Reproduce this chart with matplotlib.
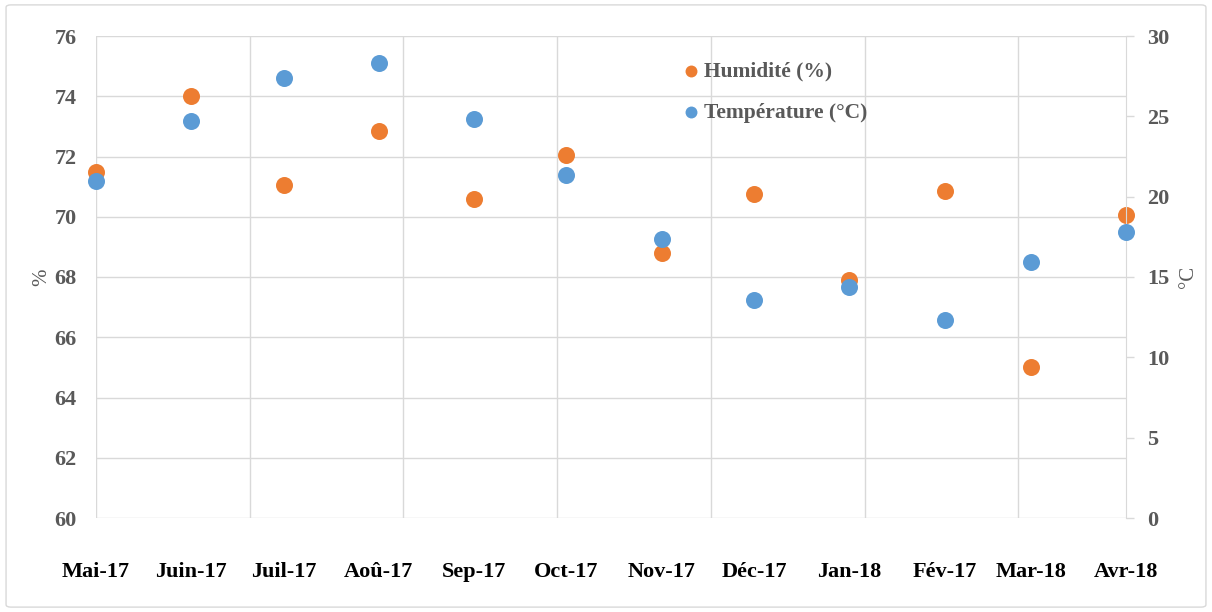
import matplotlib
matplotlib.use("Agg")
import matplotlib.pyplot as plt
import matplotlib.dates as mdates
from matplotlib.patches import FancyBboxPatch
import datetime as dt

# monthly data, May 2017 - Apr 2018
months = [dt.date(2017, 5, 1), dt.date(2017, 6, 1), dt.date(2017, 7, 1), dt.date(2017, 8, 1),
          dt.date(2017, 9, 1), dt.date(2017, 10, 1), dt.date(2017, 11, 1), dt.date(2017, 12, 1),
          dt.date(2018, 1, 1), dt.date(2018, 2, 1), dt.date(2018, 3, 1), dt.date(2018, 4, 1)]
month_labels = ["Mai-17", "Juin-17", "Juil-17", "Aoû-17", "Sep-17", "Oct-17",
                "Nov-17", "Déc-17", "Jan-18", "Fév-17", "Mar-18", "Avr-18"]
humidite = [71.5, 74.0, 71.05, 72.85, 70.6, 72.05, 68.8, 70.75, 67.9, 70.85, 65.0, 70.05]
temperature = [21.0, 24.7, 27.4, 28.3, 24.85, 21.35, 17.35, 13.55, 14.4, 12.35, 15.95, 17.8]

orange = "#ED7D31"
blue = "#5B9BD5"
grey = "#595959"
grid_c = "#D9D9D9"
font = ["Liberation Serif", "DejaVu Serif"]
plt.rcParams['font.family'] = font

fig = plt.figure(figsize=(12.12, 6.12), dpi=100)
fig.patches.append(FancyBboxPatch((0.005, 0.008), 0.99, 0.984, boxstyle="round,pad=0,rounding_size=0.004",
                                  transform=fig.transFigure, fc="none", ec="#D9D9D9", lw=1))
ax = fig.add_axes([96/1212, 94/612, 1030/1212, 482/612])
ax2 = ax.twinx()

x = mdates.date2num(months)
x0 = mdates.date2num(dt.date(2017, 5, 1))
x1 = mdates.date2num(dt.date(2018, 4, 1))

h = ax.scatter(x, humidite, s=150, color=orange, zorder=3, label="Humidité (%)",
               linewidths=0, clip_on=False)
t = ax2.scatter(x, temperature, s=150, color=blue, zorder=3, label="Température (°C)",
                linewidths=0, clip_on=False)

ax.set_xlim(x0, x1)
ax.set_ylim(60, 76)
ax.set_yticks(range(60, 77, 2))
ax2.set_ylim(0, 30)
ax2.set_yticks(range(0, 31, 5))

# gridlines every 50 days like the date axis
ax.xaxis.remove_overlapping_locs = False
ax.set_xticks([x0 + 50 * k for k in range(7)])
ax.set_xticklabels([])
ax.tick_params(axis="x", which="major", length=0)
ax.set_xticks(x, minor=True)
ax.set_xticklabels(month_labels, minor=True, fontsize=16, fontweight="bold", color="black")
ax.tick_params(axis="x", which="minor", length=0, pad=32)
ax.grid(True, which="major", color=grid_c, lw=1)
ax.set_axisbelow(True)

ax.tick_params(axis="y", length=0, pad=14, labelsize=16, labelcolor=grey)
for lb in ax.get_yticklabels():
    lb.set_fontweight("bold")
ax2.tick_params(axis="y", length=6, width=1, color=grid_c, pad=9, labelsize=16, labelcolor=grey)
for lb in ax2.get_yticklabels():
    lb.set_fontweight("bold")

for a in (ax, ax2):
    for side in ("top", "left", "bottom", "right"):
        a.spines[side].set_visible(False)
ax2.spines["right"].set_visible(True)
ax2.spines["right"].set_color(grid_c)

ax.set_ylabel("%", fontsize=15, color=grey, labelpad=2)
ax2.set_ylabel("°C", fontsize=15, color=grey, labelpad=7)

leg = ax2.legend(handles=[h, t], loc="upper left", bbox_to_anchor=(0.546, 0.988), frameon=False,
                 handletextpad=0.0, handlelength=1.2, labelspacing=1.0, markerscale=0.7,
                 prop={"family": font, "weight": "bold", "size": 15.5})
for txt in leg.get_texts():
    txt.set_color(grey)

fig.savefig("out.png", dpi=100)
